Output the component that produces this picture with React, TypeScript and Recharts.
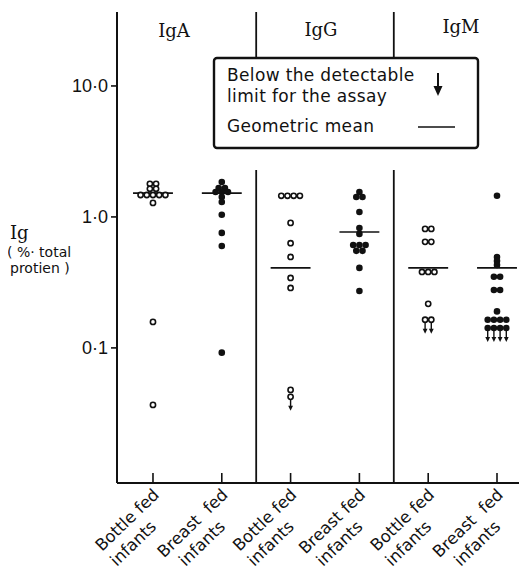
import React from "react";
import { ScatterChart, Scatter, XAxis, YAxis, ReferenceLine } from "recharts";

// categories, left to right
const groupLabels = [
  "Bottle fed|infants",
  "Breast  fed|infants",
  "Bottle fed|infants",
  "Breast fed|infants",
  "Bottle fed|infants",
  "Breast  fed|infants",
];
const panels = ["IgA", "IgG", "IgM"];

// Ig, % of total protein
const igaBottle = [1.79, 1.79, 1.64, 1.64, 1.47, 1.47, 1.47, 1.47, 1.47, 1.28, 0.158, 0.0367];
const igaBreast = [1.85, 1.66, 1.66, 1.55, 1.55, 1.55, 1.42, 1.3, 1.04, 0.755, 0.6, 0.092];
const iggBottle = [1.45, 1.45, 1.45, 1.45, 0.9, 0.63, 0.495, 0.342, 0.287, 0.0478];
const iggBreast = [1.55, 1.42, 1.42, 1.09, 0.824, 0.742, 0.611, 0.611, 0.611, 0.551, 0.551, 0.408, 0.272];
const igmBottle = [0.81, 0.81, 0.645, 0.645, 0.38, 0.38, 0.38, 0.217];
const igmBreast = [1.45, 0.495, 0.46, 0.43, 0.349, 0.349, 0.277, 0.277, 0.19, 0.164, 0.164, 0.164, 0.164];

// below the detectable limit (drawn with an arrow)
const iggBottleLow = [0.0423];
const igmBottleLow = [0.164, 0.164];
const igmBreastLow = [0.142, 0.142, 0.142, 0.142];

const geoMeans = [1.52, 1.52, 0.408, 0.768, 0.408, 0.408];

const yTicks = [0.1, 1, 10];
const yTickLabels: Record<number, string> = { 0.1: "0·1", 1: "1·0", 10: "10·0" };
const yDomain = [0.0093, 36.7];
const xDomain = [-0.523, 5.436];
// where the panel dividers stop and restart around the legend box
const dividerBreak = [16.4, 2.28];

const INK = "#111";

function build(g: number, values: number[], low: number[]) {
  const all = [...values.map((v) => ({ v, low: false })), ...low.map((v) => ({ v, low: true }))];
  return all.map((p, i) => {
    const n = all.filter((q) => q.v === p.v).length;
    const k = all.slice(0, i).filter((q) => q.v === p.v).length;
    return { x: g, y: p.v, low: p.low, open: g % 2 === 0, dx: (k - (n - 1) / 2) * 6.2 };
  });
}

const series = [
  build(0, igaBottle, []),
  build(1, igaBreast, []),
  build(2, iggBottle, iggBottleLow),
  build(3, iggBreast, []),
  build(4, igmBottle, igmBottleLow),
  build(5, igmBreast, igmBreastLow),
];

function Dot(props: any) {
  const { cx, cy, payload } = props;
  if (cx == null || cy == null) return null;
  const x = cx + payload.dx;
  return (
    <g>
      {payload.open ? (
        <circle cx={x} cy={cy} r={2.6} fill="#fff" stroke={INK} strokeWidth={1.6} />
      ) : (
        <circle cx={x} cy={cy} r={3.3} fill={INK} />
      )}
      {payload.low && (
        <g>
          <line x1={x} x2={x} y1={cy + 3} y2={cy + 11} stroke={INK} strokeWidth={1.4} />
          <path d={`M${x - 2.4},${cy + 9} L${x + 2.4},${cy + 9} L${x},${cy + 14} Z`} fill={INK} />
        </g>
      )}
    </g>
  );
}

function XTick(props: any) {
  const { x, y, payload } = props;
  const [l1, l2] = groupLabels[payload.value].split("|");
  return (
    <g>
      <line x1={x} x2={x} y1={y - 10} y2={y} stroke={INK} strokeWidth={1.6} />
      <g transform={`translate(${x + 7},${y + 13}) rotate(-44)`}>
        <text textAnchor="end" fontFamily="DejaVu Sans" fontSize={16.5} fill={INK} style={{ whiteSpace: "pre" }}>
          {l1}
        </text>
        <text x={-24} y={21} textAnchor="end" fontFamily="DejaVu Sans" fontSize={16.5} fill={INK}>
          {l2}
        </text>
      </g>
    </g>
  );
}

export default function App() {
  return (
    <div style={{ position: "relative", width: 527, height: 575, margin: -8, background: "#fff" }}>
      <ScatterChart width={527} height={575} margin={{ top: 12, right: 0, bottom: 0, left: 0 }}>
        <XAxis
          type="number"
          dataKey="x"
          domain={xDomain}
          allowDataOverflow
          ticks={[0, 1, 2, 3, 4, 5]}
          tick={<XTick />}
          tickLine={false}
          tickSize={0}
          tickMargin={0}
          height={92}
          axisLine={{ stroke: INK, strokeWidth: 2 }}
        />
        <YAxis
          type="number"
          dataKey="y"
          scale="log"
          domain={yDomain}
          allowDataOverflow
          ticks={yTicks}
          tickFormatter={(v: number) => yTickLabels[v] ?? String(v)}
          width={117}
          tickSize={6}
          tickMargin={3}
          tick={{ fill: INK, fontSize: 18, fontFamily: "Liberation Sans" }}
          tickLine={{ stroke: INK, strokeWidth: 1.6 }}
          axisLine={{ stroke: INK, strokeWidth: 2 }}
        />
        {[1.5, 3.5].map((d) => (
          <ReferenceLine
            key={"t" + d}
            segment={[{ x: d, y: yDomain[1] }, { x: d, y: dividerBreak[0] }]}
            stroke={INK}
            strokeWidth={1.8}
          />
        ))}
        {[1.5, 3.5].map((d) => (
          <ReferenceLine
            key={"b" + d}
            segment={[{ x: d, y: dividerBreak[1] }, { x: d, y: yDomain[0] }]}
            stroke={INK}
            strokeWidth={1.8}
          />
        ))}
        {geoMeans.map((m, i) => (
          <ReferenceLine
            key={"m" + i}
            segment={[{ x: i - 0.29, y: m }, { x: i + 0.29, y: m }]}
            stroke={INK}
            strokeWidth={1.6}
          />
        ))}
        {series.map((d, i) => (
          <Scatter key={i} data={d} shape={<Dot />} isAnimationActive={false} />
        ))}
      </ScatterChart>
      <svg
        width={527}
        height={575}
        style={{ position: "absolute", left: 0, top: 0, pointerEvents: "none" }}
      >
        <g fontFamily="DejaVu Serif" fontSize={18} fill={INK} textAnchor="middle">
          <text x={174} y={37}>{panels[0]}</text>
          <text x={321} y={36}>{panels[1]}</text>
          <text x={461} y={33}>{panels[2]}</text>
        </g>
        <rect x={214} y={58} width={264} height={90} rx={3} fill="#fff" stroke={INK} strokeWidth={2.4} />
        <g fontFamily="DejaVu Sans" fontSize={17} fill={INK} letterSpacing={0.35}>
          <text x={227} y={81}>Below the detectable</text>
          <text x={227} y={102}>limit for the assay</text>
          <text x={227} y={132}>Geometric mean</text>
        </g>
        <line x1={438} x2={438} y1={73} y2={89} stroke={INK} strokeWidth={2} />
        <path d="M433.5,86 L442.5,86 L438,96 Z" fill={INK} />
        <line x1={418} x2={455} y1={127} y2={127} stroke={INK} strokeWidth={1.6} />
        <text x={10} y={239} fontFamily="DejaVu Serif" fontSize={18} fill={INK}>Ig</text>
        <g fontFamily="DejaVu Sans" fontSize={14} fill={INK}>
          <text x={7} y={257} style={{ whiteSpace: "pre" }}>( %· total</text>
          <text x={10} y={273}>protien )</text>
        </g>
      </svg>
    </div>
  );
}
